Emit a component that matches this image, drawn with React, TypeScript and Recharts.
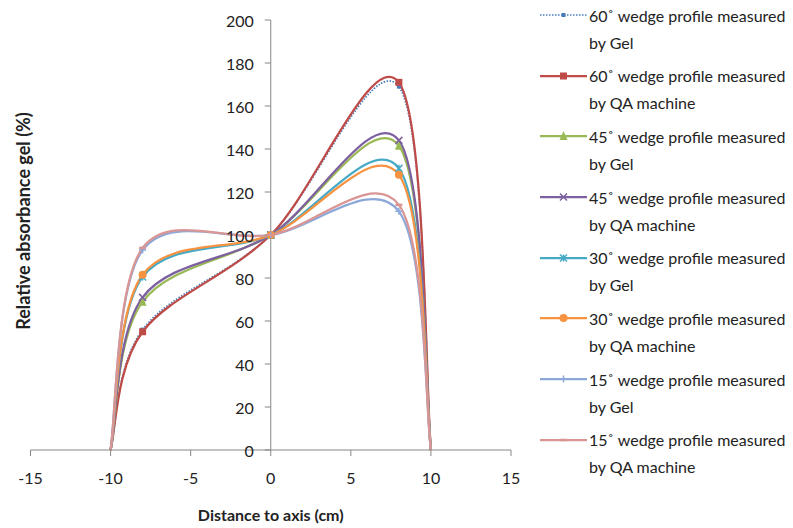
import { Legend, Line, LineChart, ReferenceDot, ReferenceLine, XAxis, YAxis } from "recharts";

const FONT = "Lato, 'Open Sans', sans-serif";
const AXIS = "#868686";
const TEXT = "#222";

// distance to axis (cm)
const xValues = [-10, -8, 0, 8, 10];
// relative absorbance (%)
const gel60 = [0, 56, 100, 169, 0];
const qa60 = [0, 55, 100, 171, 0];
const gel45 = [0, 69, 100, 141.5, 0];
const qa45 = [0, 71, 100, 144, 0];
const gel30 = [0, 80.5, 100, 131, 0];
const qa30 = [0, 81.5, 100, 128, 0];
const gel15 = [0, 93, 100, 111, 0];
const qa15 = [0, 94, 100, 114, 0];

const xTicks = [-15, -10, -5, 0, 5, 10, 15];
const yTicks = [0, 20, 40, 60, 80, 100, 120, 140, 160, 180, 200];

const series = [
  { key: "gel60", name: "60˚ wedge profile measured by Gel", values: gel60, color: "#4A7EBB", marker: "square", dotted: true, size: 4 },
  { key: "qa60", name: "60˚ wedge profile measured by QA machine", values: qa60, color: "#BE4B48", marker: "square", size: 7 },
  { key: "gel45", name: "45˚ wedge profile measured by Gel", values: gel45, color: "#98B954", marker: "triangle", size: 8 },
  { key: "qa45", name: "45˚ wedge profile measured by QA machine", values: qa45, color: "#7D60A0", marker: "x", size: 7 },
  { key: "gel30", name: "30˚ wedge profile measured by Gel", values: gel30, color: "#46AAC5", marker: "star", size: 7 },
  { key: "qa30", name: "30˚ wedge profile measured by QA machine", values: qa30, color: "#F69240", marker: "circle", size: 8 },
  { key: "gel15", name: "15˚ wedge profile measured by Gel", values: gel15, color: "#8CA8D9", marker: "plus", size: 7 },
  { key: "qa15", name: "15˚ wedge profile measured by QA machine", values: qa15, color: "#D99694", marker: "dash", size: 7 }
];

const data = xValues.map((x, i) => {
  const row: Record<string, number> = { x };
  series.forEach((s) => (row[s.key] = s.values[i]));
  return row;
});

// Excel-style smoothed line (Catmull-Rom as cubic Bezier)
function excelSmooth(context: any) {
  let pts: number[][] = [];
  return {
    areaStart() {},
    areaEnd() {},
    lineStart() {
      pts = [];
    },
    lineEnd() {
      if (!pts.length) return;
      context.moveTo(pts[0][0], pts[0][1]);
      for (let i = 0; i < pts.length - 1; i++) {
        const p0 = pts[i - 1] || pts[i];
        const p1 = pts[i];
        const p2 = pts[i + 1];
        const p3 = pts[i + 2] || p2;
        context.bezierCurveTo(
          p1[0] + (p2[0] - p0[0]) / 6,
          p1[1] + (p2[1] - p0[1]) / 6,
          p2[0] - (p3[0] - p1[0]) / 6,
          p2[1] - (p3[1] - p1[1]) / 6,
          p2[0],
          p2[1]
        );
      }
    },
    point(x: number, y: number) {
      pts.push([+x, +y]);
    }
  };
}

function Marker({ type, cx, cy, size, color }: any) {
  const h = size / 2;
  switch (type) {
    case "square":
      return <rect x={cx - h} y={cy - h} width={size} height={size} fill={color} />;
    case "triangle":
      return <path d={`M${cx},${cy - h - 1}L${cx + h},${cy + h}L${cx - h},${cy + h}Z`} fill={color} />;
    case "circle":
      return <circle cx={cx} cy={cy} r={h} fill={color} />;
    case "x":
      return (
        <path d={`M${cx - h},${cy - h}L${cx + h},${cy + h}M${cx - h},${cy + h}L${cx + h},${cy - h}`} stroke={color} strokeWidth={1.5} />
      );
    case "star":
      return (
        <path
          d={`M${cx - h},${cy - h}L${cx + h},${cy + h}M${cx - h},${cy + h}L${cx + h},${cy - h}M${cx},${cy - h}L${cx},${cy + h}`}
          stroke={color}
          strokeWidth={1.5}
        />
      );
    case "plus":
      return <path d={`M${cx - h},${cy}L${cx + h},${cy}M${cx},${cy - h}L${cx},${cy + h}`} stroke={color} strokeWidth={1.5} />;
    default:
      return <path d={`M${cx - h},${cy}L${cx + h},${cy}`} stroke={color} strokeWidth={2.5} />;
  }
}

function LegendContent() {
  return (
    <div style={{ fontFamily: FONT, fontSize: 16, color: TEXT }}>
      {series.map((s) => {
        const cut = s.name.lastIndexOf(" by ");
        return (
          <div key={s.key} style={{ position: "relative", height: 60.7 }}>
            <svg width={48} height={14} style={{ position: "absolute", left: 0, top: 6.5 }}>
              <line
                x1={0}
                x2={47}
                y1={7}
                y2={7}
                stroke={s.color}
                strokeWidth={s.dotted ? 1.5 : 2.25}
                strokeDasharray={s.dotted ? "1.5 1.5" : undefined}
              />
              <Marker type={s.marker} cx={23.5} cy={7} size={s.size} color={s.color} />
            </svg>
            <div style={{ position: "absolute", left: 49, top: 0, lineHeight: "27px", whiteSpace: "nowrap" }}>
              {s.name.slice(0, cut)}
              <br />
              {s.name.slice(cut + 1)}
            </div>
          </div>
        );
      })}
    </div>
  );
}

// both axis titles, drawn from the x axis label slot
function AxisTitles({ viewBox }: any) {
  const tx = viewBox.x + viewBox.width / 2;
  return (
    <g fontFamily={FONT} fontWeight="bold" fill={TEXT}>
      <text x={tx} y={514} textAnchor="middle" dominantBaseline="central" fontSize={16}>
        Distance to axis (cm)
      </text>
      <text x={23} y={221} transform="rotate(-90 23 221)" textAnchor="middle" dominantBaseline="central" fontSize={18}>
        Relative absorbance gel (%)
      </text>
    </g>
  );
}

export default function App() {
  return (
    <div style={{ position: "absolute", left: 0, top: 0, width: 793, height: 528, background: "#fff" }}>
      <LineChart width={793} height={528} data={data} margin={{ top: 20, right: 282, left: 30.5, bottom: 0 }}>
        <XAxis
          dataKey="x"
          type="number"
          domain={[-15, 15]}
          ticks={xTicks}
          height={78}
          stroke={AXIS}
          tickSize={6}
          tickMargin={17}
          tick={{ fill: TEXT, fontSize: 16, fontFamily: FONT }}
          label={{ content: AxisTitles }}
        />
        <YAxis type="number" domain={[0, 200]} ticks={yTicks} hide />
        <ReferenceLine x={0} stroke={AXIS} strokeWidth={1} />
        {yTicks.map((v) => (
          <ReferenceDot
            key={v}
            x={0}
            y={v}
            r={0}
            shape={(p: any) => (
              <g>
                <line x1={p.cx - 6} x2={p.cx} y1={p.cy} y2={p.cy} stroke={AXIS} />
                <text x={p.cx - 17} y={p.cy} textAnchor="end" dominantBaseline="central" fontFamily={FONT} fontSize={16} fill={TEXT}>
                  {v}
                </text>
              </g>
            )}
          />
        ))}
        <Legend
          layout="vertical"
          align="center"
          verticalAlign="middle"
          content={LegendContent}
          wrapperStyle={{ left: 540, top: 1.5, width: 253, height: "auto" }}
        />
        {series.map((s) => (
          <Line
            key={s.key}
            dataKey={s.key}
            name={s.name}
            type={excelSmooth as any}
            stroke={s.color}
            strokeWidth={s.dotted ? 1.75 : 2.25}
            strokeDasharray={s.dotted ? "1.5 1.5" : undefined}
            isAnimationActive={false}
            activeDot={false}
            dot={(p: any) =>
              p.value === 0 ? (
                <g key={p.index} />
              ) : (
                <g key={p.index}>
                  <Marker type={s.marker} cx={p.cx} cy={p.cy} size={s.size} color={s.color} />
                </g>
              )
            }
          />
        ))}
      </LineChart>
    </div>
  );
}
